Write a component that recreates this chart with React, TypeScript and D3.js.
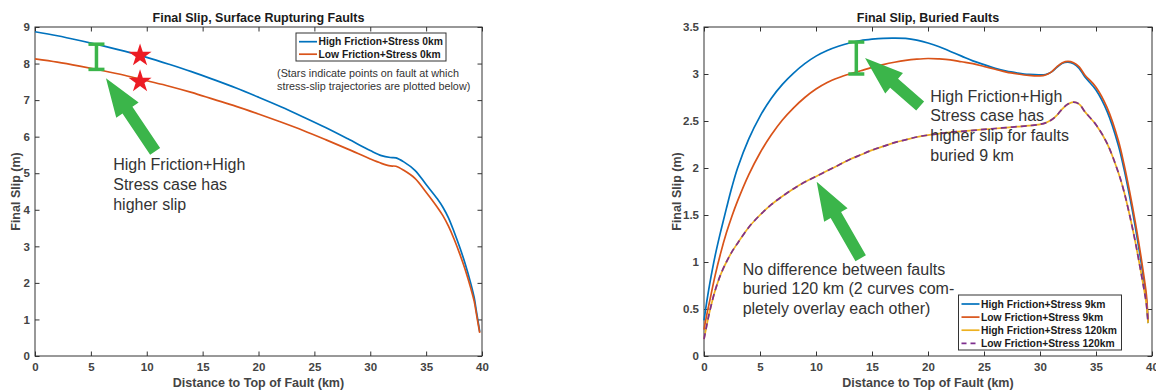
import React, { useEffect, useRef } from 'react';
import * as d3 from 'd3';

const FONT = '"Liberation Sans", Arial, Helvetica, sans-serif';
const AXIS_COLOR = '#333333';
const TICK_TEXT = '#444444';
const GREEN = '#3bb54a';
const BLUE = '#0072BD';
const ORANGE = '#D95319';
const YELLOW = '#EDB120';
const PURPLE = '#7E2F8E';

const xTicks = [0, 5, 10, 15, 20, 25, 30, 35, 40];
const surfaceYTicks = [0, 1, 2, 3, 4, 5, 6, 7, 8, 9];
const buriedYTicks = [0, 0.5, 1, 1.5, 2, 2.5, 3, 3.5];

// surface rupturing faults (left panel)
const surfaceKm = [0, 2, 4, 6, 8, 10, 12, 14, 16, 18, 20, 22, 24, 26, 28, 30, 31, 31.8, 32.3, 33, 34, 35, 36, 36.5, 37, 37.5, 38, 38.5, 39, 39.3, 39.5, 39.7, 39.8];
const surfaceHighSlip = [8.87, 8.76, 8.63, 8.49, 8.34, 8.17, 7.98, 7.78, 7.56, 7.33, 7.08, 6.82, 6.54, 6.25, 5.94, 5.62, 5.48, 5.43, 5.42, 5.31, 5.08, 4.69, 4.3, 4.07, 3.78, 3.4, 2.98, 2.52, 1.98, 1.6, 1.22, 0.85, 0.66];
const surfaceLowSlip = [8.13, 8.04, 7.93, 7.81, 7.68, 7.53, 7.38, 7.21, 7.02, 6.83, 6.62, 6.4, 6.17, 5.92, 5.66, 5.39, 5.27, 5.2, 5.19, 5.08, 4.86, 4.48, 4.07, 3.84, 3.55, 3.2, 2.8, 2.36, 1.85, 1.5, 1.15, 0.8, 0.63];
const surfaceLabels = ['High Friction+Stress 0km', 'Low Friction+Stress 0km'];
const starKm = [9.4, 9.4];
const starSlip = [8.22, 7.51];

// buried faults (right panel)
const buriedKm = [0, 0.25, 0.5, 1, 1.5, 2, 2.5, 3, 4, 5, 6, 7, 8, 9, 10, 11, 12, 13, 14, 15, 16, 17, 18, 19, 20, 21, 22, 23, 24, 25, 26, 27, 28, 29, 30, 30.5, 31, 31.5, 32, 32.5, 33, 33.5, 34, 35, 36, 37, 37.5, 38, 38.5, 39, 39.3, 39.5, 39.65];
const buried9HighSlip = [0.38, 0.58, 0.76, 1.07, 1.33, 1.57, 1.8, 2.0, 2.31, 2.55, 2.74, 2.89, 3.01, 3.11, 3.19, 3.25, 3.295, 3.33, 3.355, 3.37, 3.38, 3.382, 3.378, 3.36, 3.33, 3.29, 3.24, 3.19, 3.14, 3.1, 3.06, 3.03, 3.01, 2.995, 2.99, 2.995, 3.02, 3.07, 3.115, 3.125, 3.11, 3.06, 2.97, 2.83, 2.6, 2.24, 1.99, 1.7, 1.38, 1.02, 0.78, 0.6, 0.35];
const buried9LowSlip = [0.28, 0.44, 0.58, 0.86, 1.1, 1.31, 1.49, 1.65, 1.93, 2.16, 2.35, 2.51, 2.64, 2.75, 2.84, 2.91, 2.96, 3.0, 3.035, 3.07, 3.1, 3.125, 3.145, 3.158, 3.165, 3.16, 3.15, 3.13, 3.11, 3.08, 3.05, 3.02, 3.0, 2.985, 2.98, 2.99, 3.02, 3.075, 3.12, 3.135, 3.12, 3.075, 2.99, 2.86, 2.64, 2.29, 2.04, 1.75, 1.43, 1.07, 0.83, 0.65, 0.37];
const buried120HighSlip = [0.18, 0.33, 0.47, 0.7, 0.87, 1.0, 1.11, 1.2, 1.37, 1.5, 1.61, 1.7, 1.78, 1.85, 1.91, 1.97, 2.03, 2.09, 2.14, 2.19, 2.23, 2.27, 2.3, 2.33, 2.35, 2.365, 2.38, 2.39, 2.4, 2.41, 2.42, 2.43, 2.44, 2.45, 2.465, 2.48, 2.51, 2.56, 2.63, 2.68, 2.7, 2.68, 2.6, 2.46, 2.26, 1.95, 1.75, 1.5, 1.22, 0.9, 0.7, 0.55, 0.35];
// the two 120 km curves completely overlay each other
const buried120LowSlip = [0.18, 0.33, 0.47, 0.7, 0.87, 1.0, 1.11, 1.2, 1.37, 1.5, 1.61, 1.7, 1.78, 1.85, 1.91, 1.97, 2.03, 2.09, 2.14, 2.19, 2.23, 2.27, 2.3, 2.33, 2.35, 2.365, 2.38, 2.39, 2.4, 2.41, 2.42, 2.43, 2.44, 2.45, 2.465, 2.48, 2.51, 2.56, 2.63, 2.68, 2.7, 2.68, 2.6, 2.46, 2.26, 1.95, 1.75, 1.5, 1.22, 0.9, 0.7, 0.55, 0.35];
const buriedLabels = ['High Friction+Stress 9km', 'Low Friction+Stress 9km', 'High Friction+Stress 120km', 'Low Friction+Stress 120km'];

const TICK = 4.5;

function drawPanel(svg, cfg) {
  const { left, right, top, bottom, yMax, yTicks, title, yLabelX } = cfg;
  const x = d3.scaleLinear().domain([0, 40]).range([left, right]);
  const y = d3.scaleLinear().domain([0, yMax]).range([bottom, top]);
  const g = svg.append('g');

  const style = (sel) => {
    sel.select('.domain').remove();
    sel.selectAll('.tick line').attr('stroke', AXIS_COLOR).attr('stroke-width', 1);
    sel.selectAll('.tick text')
      .attr('fill', TICK_TEXT)
      .attr('font-family', FONT)
      .attr('font-weight', 'bold')
      .attr('font-size', 11.5);
  };

  g.append('g').attr('transform', `translate(0,${bottom})`)
    .call(d3.axisBottom(x).tickValues(xTicks).tickSizeInner(-TICK).tickSizeOuter(0).tickPadding(7).tickFormat(d => String(d)))
    .call(style);
  g.append('g').attr('transform', `translate(0,${top})`)
    .call(d3.axisTop(x).tickValues(xTicks).tickSizeInner(-TICK).tickSizeOuter(0).tickFormat(() => ''))
    .call(style);
  g.append('g').attr('transform', `translate(${left},0)`)
    .call(d3.axisLeft(y).tickValues(yTicks).tickSizeInner(-TICK).tickSizeOuter(0).tickPadding(5).tickFormat(d => String(d)))
    .call(style);
  g.append('g').attr('transform', `translate(${right},0)`)
    .call(d3.axisRight(y).tickValues(yTicks).tickSizeInner(-TICK).tickSizeOuter(0).tickFormat(() => ''))
    .call(style);

  g.append('rect')
    .attr('x', left).attr('y', top)
    .attr('width', right - left).attr('height', bottom - top)
    .attr('fill', 'none').attr('stroke', AXIS_COLOR).attr('stroke-width', 1);

  g.append('text')
    .attr('x', (left + right) / 2).attr('y', top - 5.5)
    .attr('text-anchor', 'middle')
    .attr('font-family', FONT).attr('font-weight', 'bold').attr('font-size', 12.5)
    .attr('fill', '#1a1a1a')
    .text(title);

  g.append('text')
    .attr('x', (left + right) / 2).attr('y', bottom + 30.5)
    .attr('text-anchor', 'middle')
    .attr('font-family', FONT).attr('font-weight', 'bold').attr('font-size', 12.5)
    .attr('fill', TICK_TEXT)
    .text('Distance to Top of Fault (km)');

  g.append('text')
    .attr('transform', `translate(${yLabelX},${(top + bottom) / 2}) rotate(-90)`)
    .attr('text-anchor', 'middle')
    .attr('font-family', FONT).attr('font-weight', 'bold').attr('font-size', 12.5)
    .attr('fill', TICK_TEXT)
    .text('Final Slip (m)');

  return { x, y, g };
}

function drawLine(g, x, y, km, values, color, dash) {
  const line = d3.line<number>()
    .x((d, i) => x(km[i]))
    .y(d => y(d))
    .curve(d3.curveCatmullRom.alpha(0.5));
  g.append('path')
    .datum(values)
    .attr('d', line)
    .attr('fill', 'none')
    .attr('stroke', color)
    .attr('stroke-width', 1.7)
    .attr('stroke-dasharray', dash || null);
}

function drawIBar(g, px, pyTop, pyBottom) {
  const half = 8;
  const bar = g.append('g').attr('stroke', GREEN).attr('stroke-width', 3.5).attr('fill', 'none');
  bar.append('line').attr('x1', px).attr('x2', px).attr('y1', pyTop).attr('y2', pyBottom);
  bar.append('line').attr('x1', px - half).attr('x2', px + half).attr('y1', pyTop).attr('y2', pyTop);
  bar.append('line').attr('x1', px - half).attr('x2', px + half).attr('y1', pyBottom).attr('y2', pyBottom);
}

function drawArrow(g, tip, tail) {
  const headLen = 38.5;
  const headW = 27;
  const shaftW = 12;
  const dx = tail[0] - tip[0];
  const dy = tail[1] - tip[1];
  const len = Math.hypot(dx, dy);
  const ux = dx / len, uy = dy / len;
  const px = -uy, py = ux;
  const bx = tip[0] + ux * headLen, by = tip[1] + uy * headLen;
  const pts = [
    tip,
    [bx + px * headW / 2, by + py * headW / 2],
    [bx + px * shaftW / 2, by + py * shaftW / 2],
    [tail[0] + px * shaftW / 2, tail[1] + py * shaftW / 2],
    [tail[0] - px * shaftW / 2, tail[1] - py * shaftW / 2],
    [bx - px * shaftW / 2, by - py * shaftW / 2],
    [bx - px * headW / 2, by - py * headW / 2],
  ];
  g.append('polygon').attr('points', pts.map(p => p.join(',')).join(' ')).attr('fill', GREEN);
}

function drawNote(g, px, py, lines, size, lineH) {
  const t = g.append('text')
    .attr('x', px).attr('y', py)
    .attr('font-family', FONT).attr('font-size', size)
    .attr('fill', '#333333');
  lines.forEach((s, i) => {
    t.append('tspan').attr('x', px).attr('y', py + i * lineH).text(s);
  });
}

function drawLegend(g, boxX, boxY, boxW, boxH, rowY0, rowH, labels, colors, dashes) {
  const lg = g.append('g');
  lg.append('rect')
    .attr('x', boxX).attr('y', boxY).attr('width', boxW).attr('height', boxH)
    .attr('fill', '#ffffff').attr('stroke', AXIS_COLOR).attr('stroke-width', 1);
  labels.forEach((label, i) => {
    const ry = rowY0 + i * rowH;
    lg.append('line')
      .attr('x1', boxX + 3).attr('x2', boxX + 21).attr('y1', ry).attr('y2', ry)
      .attr('stroke', colors[i]).attr('stroke-width', 1.7)
      .attr('stroke-dasharray', dashes[i] || null);
    lg.append('text')
      .attr('x', boxX + 22.5).attr('y', ry)
      .attr('dy', '0.35em')
      .attr('font-family', FONT).attr('font-weight', 'bold').attr('font-size', 10.3)
      .attr('fill', '#1a1a1a')
      .text(label);
  });
}

const App = () => {
  const svgRef = useRef(null);

  useEffect(() => {
    const svg = d3.select(svgRef.current);
    svg.selectAll('*').remove();

    // ---- left panel ----
    const L = drawPanel(svg, {
      left: 35, right: 482, top: 27, bottom: 356,
      yMax: 9, yTicks: surfaceYTicks,
      title: 'Final Slip, Surface Rupturing Faults',
      yLabelX: 20,
    });
    drawLine(L.g, L.x, L.y, surfaceKm, surfaceHighSlip, BLUE);
    drawLine(L.g, L.x, L.y, surfaceKm, surfaceLowSlip, ORANGE);

    drawIBar(L.g, L.x(5.5), L.y(8.53), L.y(7.84));
    starKm.forEach((k, i) => {
      L.g.append('path')
        .attr('d', d3.symbol().type(d3.symbolStar).size(165)())
        .attr('transform', `translate(${L.x(k)},${L.y(starSlip[i])})`)
        .attr('fill', '#ec1c24');
    });
    drawArrow(L.g, [L.x(6.35), L.y(7.6)], [L.x(10.75), L.y(5.6)]);
    drawNote(L.g, L.x(7.0), L.y(5.09), ['High Friction+High', 'Stress case has', 'higher slip'], 16, 20);
    drawLegend(L.g, 296, 33, 150, 28, 41.7, 12.5, surfaceLabels, [BLUE, ORANGE], [null, null]);
    drawNote(L.g, L.x(21.66), L.y(7.62), ['(Stars indicate points on fault at which', 'stress-slip trajectories are plotted below)'], 10.8, 13);

    // ---- right panel ----
    const R = drawPanel(svg, {
      left: 704, right: 1152, top: 27, bottom: 356,
      yMax: 3.5, yTicks: buriedYTicks,
      title: 'Final Slip, Buried Faults',
      yLabelX: 681,
    });
    drawLine(R.g, R.x, R.y, buriedKm, buried9HighSlip, BLUE);
    drawLine(R.g, R.x, R.y, buriedKm, buried9LowSlip, ORANGE);
    drawLine(R.g, R.x, R.y, buriedKm, buried120HighSlip, YELLOW);
    drawLine(R.g, R.x, R.y, buriedKm, buried120LowSlip, PURPLE, '6,4');

    drawIBar(R.g, R.x(13.6), R.y(3.34), R.y(3.0));
    drawArrow(R.g, [R.x(14.38), R.y(3.17)], [R.x(19.3), R.y(2.66)]);
    drawArrow(R.g, [R.x(10.06), R.y(1.854)], [R.x(13.99), R.y(1.04)]);
    drawNote(R.g, R.x(20.2), R.y(2.705), ['High Friction+High', 'Stress case has', 'higher slip for faults', 'buried 9 km'], 16, 19.7);
    drawNote(R.g, R.x(3.45), R.y(0.862), ['No difference between faults', 'buried 120 km (2 curves com-', 'pletely overlay each other)'], 16, 19.3);
    drawLegend(R.g, 958.5, 295, 163, 55, 304, 13.1, buriedLabels, [BLUE, ORANGE, YELLOW, PURPLE], [null, null, null, '5,4']);
  }, []);

  return (
    <svg
      ref={svgRef}
      width={1156}
      height={392}
      style={{ position: 'absolute', left: 0, top: 0, background: '#ffffff' }}
    />
  );
};

export default App;
